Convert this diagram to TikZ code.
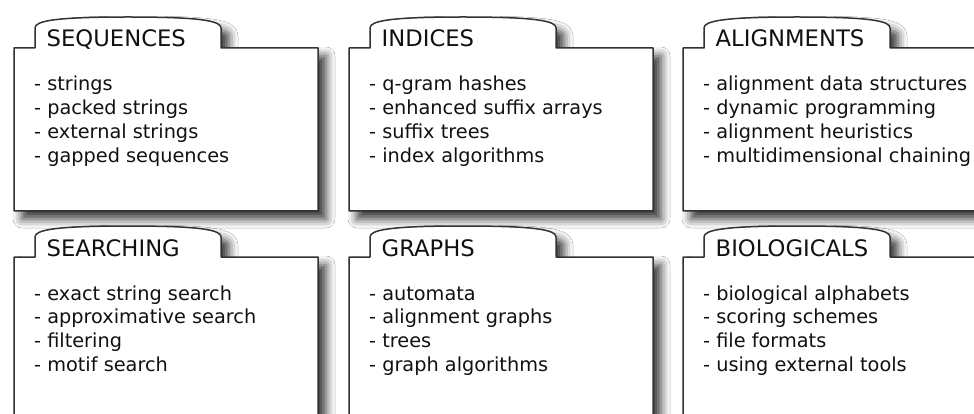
\documentclass[tikz,border=0pt]{standalone}
\usepackage{fontspec}
\setmainfont{DejaVu Sans}
\usetikzlibrary{shadows.blur}
\definecolor{edge}{HTML}{333333}
\definecolor{ink}{HTML}{111111}
\tikzset{
  folder/.style={draw=edge, line width=1.5pt, fill=white, line join=round,
    blur shadow={shadow xshift=8pt, shadow yshift=-8pt, shadow blur radius=9pt, shadow opacity=80}},
  ftitle/.style={anchor=base west, inner sep=0pt, font=\fontsize{22.7}{27}\selectfont, text=ink},
  fitem/.style={anchor=base west, inner sep=0pt, font=\fontsize{19.3}{23.7}\selectfont, text=ink},
}
\newcommand\folderbox[5]{%
  \begin{scope}[shift={(#2,#3)}]
    \path[folder] (0,0) -- (21,0) -- (21,-20)
      .. controls (21,-27) and (40,-31) .. (114,-31)
      .. controls (188,-31) and (207,-27) .. (207,-20)
      -- (207,0) -- (304,0) -- (304,163) -- (0,163) -- cycle;
    \node[ftitle] (#1-title) at (32.5,-1) {#4};
    \foreach \itm [count=\i] in {#5} {
      \node[fitem] (#1-item\i) at (20, 19.3+23.7*\i) {- \itm};
    }
  \end{scope}}
\begin{document}
\begin{tikzpicture}[x=1pt,y=-1pt]
  \fill[white] (0,0) rectangle (974,414);
  \useasboundingbox (0,0) rectangle (974,414);
  \folderbox{seq}{14}{48}{SEQUENCES}{strings,packed strings,external strings,gapped sequences}
  \folderbox{idx}{349}{48}{INDICES}{q-gram hashes,enhanced suffix arrays,suffix trees,index algorithms}
  \folderbox{aln}{683}{48}{ALIGNMENTS}{alignment data structures,dynamic programming,alignment heuristics,multidimensional chaining}
  \folderbox{srch}{14}{257}{SEARCHING}{exact string search,approximative search,filtering,motif search}
  \folderbox{gra}{349}{257}{GRAPHS}{automata,alignment graphs,trees,graph algorithms}
  \folderbox{bio}{683}{257}{BIOLOGICALS}{biological alphabets,scoring schemes,file formats,using external tools}
\end{tikzpicture}
\end{document}
